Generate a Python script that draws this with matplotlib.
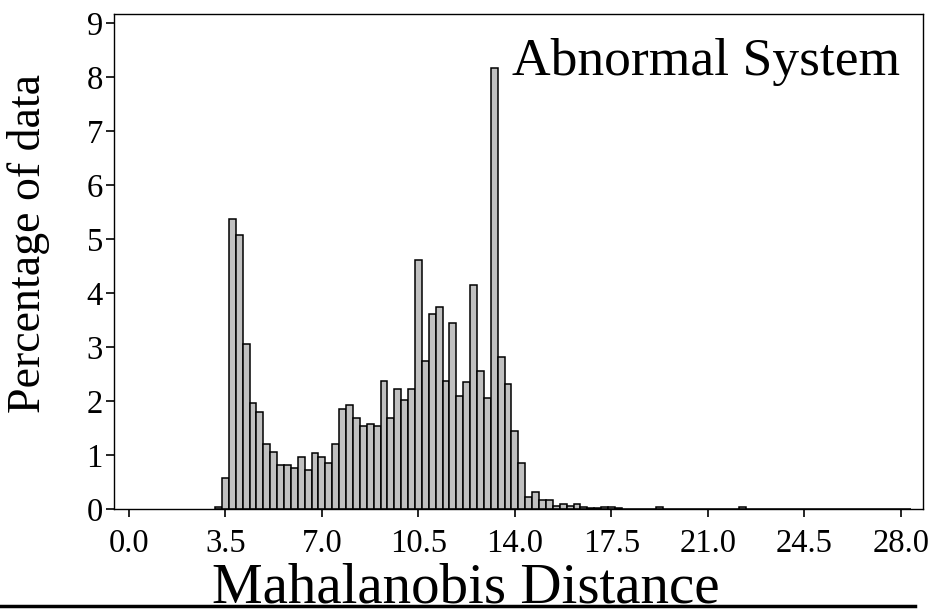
import numpy as np
import matplotlib.pyplot as plt
from matplotlib.lines import Line2D

# Histogram of Mahalanobis distance (abnormal system), bins of width 0.25
bin_start = 3.25
bin_width = 0.25
percent = [
    0.03, 0.58, 5.37, 5.07, 3.06, 1.96, 1.79, 1.21, 1.06, 0.81,
    0.81, 0.75, 0.96, 0.72, 1.03, 0.96, 0.86, 1.21, 1.85, 1.93,
    1.68, 1.54, 1.58, 1.54, 2.37, 1.68, 2.23, 2.02, 2.23, 4.61,
    2.74, 3.62, 3.75, 2.37, 3.44, 2.10, 2.35, 4.14, 2.55, 2.06,
    8.17, 2.82, 2.31, 1.45, 0.86, 0.23, 0.31, 0.17, 0.17, 0.06,
    0.10, 0.06, 0.10, 0.03, 0.02, 0.01, 0.03, 0.03, 0.02, 0.0,
    0.0, 0.0, 0.0, 0.0, 0.03, 0.0, 0.0, 0.0, 0.0, 0.0,
    0.0, 0.0, 0.0, 0.0, 0.0, 0.0, 0.04, 0.0, 0.0, 0.0,
    0.0, 0.0, 0.0, 0.0, 0.0, 0.0, 0.0, 0.0, 0.0, 0.0,
    0.0, 0.0, 0.0, 0.0, 0.0, 0.0, 0.0, 0.0, 0.0, 0.0,
    0.0,
]
x_ticks = [0.0, 3.5, 7.0, 10.5, 14.0, 17.5, 21.0, 24.5, 28.0]
y_ticks = [0, 1, 2, 3, 4, 5, 6, 7, 8, 9]

centers = bin_start + bin_width * np.arange(len(percent))

plt.rcParams['font.family'] = ['Liberation Serif', 'DejaVu Serif']

fig = plt.figure(figsize=(9.33, 6.13), dpi=100)
ax = fig.add_axes([0.1222, 0.1697, 0.8671, 0.8075])

ax.bar(centers, percent, width=bin_width, color='#c0c0c0',
       edgecolor='black', linewidth=1.1, align='center')

ax.set_xlim(-0.54, 28.8)
ax.set_ylim(0, 9.17)
ax.set_xticks(x_ticks)
ax.set_xticklabels(['%.1f' % t for t in x_ticks])
ax.set_yticks(y_ticks)
ax.tick_params(axis='both', direction='out', length=6, width=1.2,
               labelsize=23.5, top=False, right=False)
ax.tick_params(axis='x', pad=8)
ax.tick_params(axis='y', pad=2)
for s in ax.spines.values():
    s.set_linewidth(1.0)

ax.set_ylabel('Percentage of data', fontsize=33)
ax.yaxis.set_label_coords(-0.079, 0.537)
ax.set_xlabel('Mahalanobis Distance', fontsize=41)
ax.xaxis.set_label_coords(0.435, -0.108)

ax.text(0.972, 0.877, 'Abnormal System', transform=ax.transAxes,
        ha='right', va='baseline', fontsize=38.5)

# underline at the bottom of the figure
fig.add_artist(Line2D([0, 0.981], [0.0114, 0.0114], color='black',
                      linewidth=2.5, transform=fig.transFigure))

plt.savefig('out.png', dpi=100)
